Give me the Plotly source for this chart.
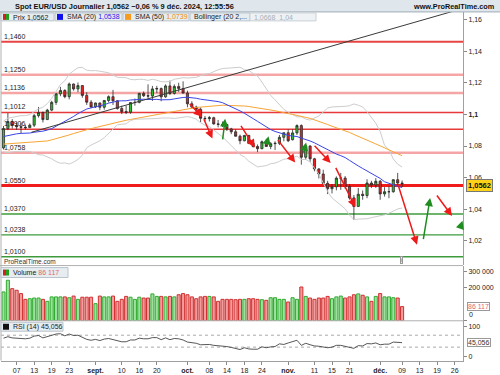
import pandas as pd
import plotly.graph_objects as go

# ---------------- data ----------------
dates = pd.bdate_range("2024-08-02", "2024-12-09")
calendar = [d for d in pd.bdate_range("2024-08-02", "2024-12-31") if d != pd.Timestamp("2024-12-25")]
cal_idx = {d: i for i, d in enumerate(calendar)}

opens = [1.0788,1.0910,1.0955,1.0930,1.0922,1.0919,1.0916,1.0932,1.0992,1.1012,
         1.0967,1.1027,1.1076,1.1130,1.1151,1.1112,1.1192,1.1161,1.1182,1.1120,
         1.1077,1.1047,1.1072,1.1045,1.1088,1.1112,1.1086,1.1037,1.1017,1.1014,
         1.1075,1.1076,1.1133,1.1118,1.1116,1.1161,1.1163,1.1111,1.1180,1.1132,
         1.1177,1.1163,1.1135,1.1067,1.1046,1.1032,1.0975,1.0973,1.0979,1.0940,
         1.0937,1.0936,1.0908,1.0890,1.0862,1.0833,1.0867,1.0817,1.0797,1.0783,
         1.0827,1.0797,1.0815,1.0817,1.0855,1.0884,1.0840,1.0883,1.0929,1.0729,
         1.0800,1.0719,1.0655,1.0623,1.0564,1.0530,1.0542,1.0597,1.0597,1.0544,
         1.0472,1.0418,1.0495,1.0487,1.0566,1.0553,1.0577,1.0497,1.0511,1.0511,
         1.0587,1.0566]
highs = [1.0927,1.1009,1.0970,1.0950,1.0948,1.0935,1.0943,1.1002,1.1047,1.1018,
         1.1035,1.1086,1.1135,1.1174,1.1159,1.1201,1.1195,1.1202,1.1185,1.1140,
         1.1090,1.1075,1.1075,1.1089,1.1120,1.1155,1.1090,1.1055,1.1055,1.1078,
         1.1100,1.1136,1.1145,1.1190,1.1180,1.1180,1.1170,1.1190,1.1214,1.1190,
         1.1200,1.1209,1.1150,1.1083,1.1055,1.1044,1.0990,1.0990,1.0985,1.0965,
         1.0955,1.0940,1.0915,1.0905,1.0872,1.0870,1.0870,1.0835,1.0810,1.0835,
         1.0845,1.0825,1.0830,1.0870,1.0885,1.0905,1.0905,1.0937,1.0937,1.0805,
         1.0805,1.0725,1.0660,1.0650,1.0580,1.0560,1.0608,1.0630,1.0610,1.0560,
         1.0490,1.0535,1.0519,1.0590,1.0580,1.0597,1.0585,1.0540,1.0545,1.0590,
         1.0630,1.0582]
lows = [1.0778,1.0900,1.0910,1.0902,1.0882,1.0905,1.0915,1.0920,1.0980,1.0949,
        1.0965,1.1020,1.1060,1.1115,1.1102,1.1095,1.1150,1.1140,1.1105,1.1060,
        1.1040,1.1040,1.1026,1.1030,1.1075,1.1060,1.1030,1.1002,1.1002,1.1004,
        1.1055,1.1070,1.1110,1.1100,1.1085,1.1135,1.1083,1.1105,1.1122,1.1125,
        1.1142,1.1133,1.1045,1.1036,1.1003,1.0951,1.0955,1.0955,1.0935,1.0918,
        1.0920,1.0895,1.0875,1.0860,1.0811,1.0830,1.0812,1.0790,1.0761,1.0780,
        1.0795,1.0780,1.0775,1.0806,1.0830,1.0825,1.0835,1.0870,1.0682,1.0713,
        1.0700,1.0640,1.0595,1.0560,1.0496,1.0500,1.0520,1.0523,1.0530,1.0461,
        1.0332,1.0420,1.0460,1.0470,1.0535,1.0535,1.0460,1.0480,1.0470,1.0505,
        1.0555,1.0540]
closes = [1.0910,1.0955,1.0930,1.0922,1.0919,1.0916,1.0932,1.0992,1.1012,1.0967,
          1.1027,1.1076,1.1130,1.1151,1.1112,1.1192,1.1161,1.1182,1.1120,1.1077,
          1.1047,1.1072,1.1045,1.1088,1.1112,1.1086,1.1037,1.1017,1.1014,1.1075,
          1.1076,1.1133,1.1118,1.1116,1.1161,1.1163,1.1111,1.1180,1.1132,1.1177,
          1.1163,1.1135,1.1067,1.1046,1.1032,1.0975,1.0973,1.0979,1.0940,1.0937,
          1.0936,1.0908,1.0890,1.0862,1.0833,1.0867,1.0817,1.0797,1.0783,1.0827,
          1.0797,1.0815,1.0817,1.0855,1.0884,1.0833,1.0883,1.0929,1.0729,1.0800,
          1.0719,1.0655,1.0623,1.0564,1.0530,1.0542,1.0597,1.0597,1.0544,1.0472,
          1.0418,1.0495,1.0487,1.0566,1.0553,1.0577,1.0497,1.0511,1.0511,1.0587,
          1.0566,1.0562]
volumes = [175000,246000,195000,185000,165000,130000,134000,138000,138000,130000,
           118000,145000,145000,145000,145000,140000,150000,130000,143000,143000,
           143000,104000,150000,145000,145000,150000,118000,130000,148000,143000,
           130000,143000,138000,138000,163000,148000,148000,145000,148000,145000,
           158000,165000,158000,145000,134000,145000,148000,148000,145000,118000,
           130000,130000,130000,128000,130000,130000,134000,134000,130000,128000,
           124000,140000,140000,130000,130000,114000,140000,130000,205000,148000,
           138000,130000,138000,138000,148000,134000,145000,150000,138000,145000,
           158000,163000,155000,145000,118000,148000,165000,145000,145000,140000,
           138000,86117]
sma20 = [1.0860,1.0867,1.0872,1.0877,1.0880,1.0880,1.0882,1.0887,1.0890,1.0894,
         1.0901,1.0910,1.0925,1.0940,1.0953,1.0970,1.0987,1.1005,1.1020,1.1034,
         1.1041,1.1047,1.1053,1.1061,1.1071,1.1079,1.1084,1.1086,1.1086,1.1091,
         1.1094,1.1096,1.1096,1.1094,1.1096,1.1095,1.1092,1.1092,1.1093,1.1098,
         1.1104,1.1107,1.1108,1.1106,1.1102,1.1096,1.1093,1.1091,1.1088,1.1081,
         1.1074,1.1062,1.1051,1.1038,1.1022,1.1007,1.0992,1.0973,1.0956,1.0938,
         1.0920,1.0904,1.0892,1.0882,1.0875,1.0867,1.0863,1.0860,1.0850,1.0843,
         1.0832,1.0820,1.0806,1.0791,1.0776,1.0760,1.0749,1.0739,1.0727,1.0709,
         1.0690,1.0674,1.0658,1.0643,1.0627,1.0614,1.0595,1.0574,1.0563,1.0552,
         1.0545,1.0538]
sma50 = [1.0812,1.0814,1.0815,1.0817,1.0819,1.0821,1.0821,1.0823,1.0826,1.0828,
         1.0832,1.0839,1.0846,1.0853,1.0861,1.0870,1.0879,1.0888,1.0895,1.0903,
         1.0910,1.0917,1.0923,1.0931,1.0940,1.0947,1.0953,1.0958,1.0963,1.0968,
         1.0973,1.0979,1.0985,1.0991,1.0997,1.1002,1.1006,1.1012,1.1016,1.1021,
         1.1027,1.1032,1.1036,1.1040,1.1044,1.1046,1.1049,1.1053,1.1055,1.1058,
         1.1058,1.1057,1.1057,1.1055,1.1054,1.1053,1.1050,1.1046,1.1042,1.1039,
         1.1034,1.1029,1.1023,1.1017,1.1013,1.1005,1.1000,1.0995,1.0987,1.0981,
         1.0975,1.0966,1.0958,1.0948,1.0936,1.0925,1.0916,1.0908,1.0898,1.0886,
         1.0873,1.0860,1.0848,1.0837,1.0825,1.0813,1.0801,1.0787,1.0775,1.0763,
         1.0751,1.0739]
bb_up = [1.0958,1.0976,1.0981,1.0987,1.0992,1.0992,1.0998,1.1018,1.1035,1.1045,
         1.1068,1.1101,1.1147,1.1189,1.1213,1.1254,1.1276,1.1295,1.1297,1.1279,
         1.1276,1.1277,1.1273,1.1268,1.1263,1.1249,1.1234,1.1233,1.1232,1.1221,
         1.1219,1.1222,1.1221,1.1215,1.1222,1.1216,1.1207,1.1206,1.1209,1.1222,
         1.1229,1.1232,1.1230,1.1232,1.1234,1.1245,1.1254,1.1258,1.1272,1.1282,
         1.1290,1.1292,1.1297,1.1300,1.1298,1.1283,1.1279,1.1258,1.1243,1.1204,
         1.1164,1.1120,1.1092,1.1061,1.1032,1.1014,1.0998,1.0984,1.0985,1.0970,
         1.0964,1.0977,1.0990,1.1015,1.1040,1.1047,1.1048,1.1046,1.1051,1.1055,
         1.1066,1.1058,1.1047,1.1017,1.0977,1.0944,1.0892,1.0804,1.0777,1.0718,
         1.0685,1.0668]
bb_lo = [1.0763,1.0758,1.0763,1.0767,1.0767,1.0767,1.0766,1.0756,1.0745,1.0743,
         1.0733,1.0719,1.0702,1.0691,1.0693,1.0686,1.0698,1.0715,1.0742,1.0789,
         1.0806,1.0817,1.0833,1.0853,1.0878,1.0909,1.0934,1.0938,1.0940,1.0961,
         1.0969,1.0970,1.0971,1.0973,1.0970,1.0974,1.0977,1.0978,1.0977,1.0974,
         1.0979,1.0982,1.0986,1.0980,1.0970,1.0947,1.0932,1.0923,1.0904,1.0880,
         1.0858,1.0832,1.0805,1.0775,1.0746,1.0731,1.0704,1.0688,1.0668,1.0672,
         1.0676,1.0688,1.0692,1.0703,1.0717,1.0719,1.0728,1.0736,1.0715,1.0715,
         1.0699,1.0662,1.0622,1.0567,1.0512,1.0472,1.0450,1.0431,1.0403,1.0363,
         1.0335,1.0338,1.0338,1.0340,1.0347,1.0352,1.0358,1.0365,1.0375,1.0390,
         1.0402,1.0408]
rsi = [60,65,61,59,59,58,60,67,69,61,
       66,70,74,75,68,74,69,70,62,56,
       53,56,52,57,59,55,50,48,48,54,
       54,60,58,58,62,62,55,61,55,59,
       58,54,47,45,43,38,38,39,36,35,
       35,32,29,26,22,28,24,23,23,31,
       28,31,32,41,39,44,48,53,36,43,
       38,34,33,30,28,30,36,36,32,29,
       26,35,34,42,41,44,38,40,40,47,
       45,45.056]

tick_dates = ["2024-08-07","2024-08-13","2024-08-19","2024-08-23","2024-09-02","2024-09-10",
              "2024-09-16","2024-09-20","2024-10-01","2024-10-08","2024-10-14","2024-10-18",
              "2024-10-24","2024-11-01","2024-11-11","2024-11-15","2024-11-21","2024-12-02",
              "2024-12-09","2024-12-13","2024-12-19","2024-12-26"]
tick_labels = ["07","13","19","23","<b>sept.</b>","10","16","20","<b>oct.</b>","08","14","18",
               "24","<b>nov.</b>","11","15","21","<b>déc.</b>","09","13","19","26"]

price_ticks = [1.02, 1.04, 1.06, 1.08, 1.10, 1.12, 1.14, 1.16]
price_tick_labels = ["1,02", "1,04", "1,06", "1,08", "<b>1,1</b>", "1,12", "1,14", "1,16"]
volume_ticks = [0, 200000, 300000]
volume_tick_labels = ["", "200 000", "300 000"]

levels = [1.1460, 1.1250, 1.1136, 1.1012, 1.0906, 1.0758, 1.0550, 1.0370, 1.0238, 1.0100]
level_colors = ["#e84444", "#f5a5a5", "#f5a5a5", "#e83a3a", "#e83a3a", "#f5a5a5",
                "#f01c1c", "#3d9b3d", "#3d9b3d", "#3d9b3d"]
level_widths = [2, 2.5, 2.5, 1.3, 1.3, 2.5, 3, 1.3, 1.3, 1.3]

trend_x = [6.4, 104.9]
trend_y = [1.0887, 1.1670]

arrow_tail_x = [42.2, 45.6, 50.0, 54.0, 60.0, 62.4, 68.4, 70.7, 75.7, 90.1, 95.8, 98.7, 104.3]
arrow_tail_y = [1.1075, 1.0979, 1.0832, 1.0937, 1.0800, 1.0847, 1.0748, 1.0811, 1.0671, 1.0553, 1.0201, 1.0497, 1.0285]
arrow_head_x = [45.3, 47.7, 50.6, 57.4, 60.5, 66.6, 69.1, 74.7, 80.3, 94.4, 97.4, 102.4, 104.8]
arrow_head_y = [1.0985, 1.0847, 1.0973, 1.0790, 1.0862, 1.0696, 1.0822, 1.0692, 1.0413, 1.0176, 1.0472, 1.0358, 1.0327]
arrow_colors = ["#ee1a1a", "#ee1a1a", "#1e8c1e", "#ee1a1a", "#1e8c1e", "#ee1a1a", "#1e8c1e",
                "#ee1a1a", "#ee1a1a", "#ee1a1a", "#1e8c1e", "#ee1a1a", "#1e8c1e"]

# ---------------- figure ----------------
W, H = 500, 375
def fx(px): return px / W
def fy(py): return 1 - py / H

idx = [cal_idx[dd] for dd in dates]
FONT = "Liberation Sans"

fig = go.Figure()
fig.add_trace(go.Scatter(x=idx, y=bb_up, mode="lines", line=dict(color="#cdcdcd", width=1), yaxis="y"))
fig.add_trace(go.Scatter(x=idx, y=bb_lo, mode="lines", line=dict(color="#cdcdcd", width=1), yaxis="y"))
fig.add_trace(go.Scatter(x=idx, y=sma50, mode="lines", line=dict(color="#f7a535", width=1), yaxis="y"))
fig.add_trace(go.Scatter(x=idx, y=sma20, mode="lines", line=dict(color="#3a44e6", width=1), yaxis="y"))
fig.add_trace(go.Scatter(x=trend_x, y=trend_y, mode="lines", line=dict(color="#3a3a3a", width=1), yaxis="y"))
fig.add_trace(go.Candlestick(
    x=idx, open=opens, high=highs, low=lows, close=closes, yaxis="y",
    increasing=dict(fillcolor="#2fbf2f", line=dict(color="#2a2a2a", width=0.8)),
    decreasing=dict(fillcolor="#e82222", line=dict(color="#2a2a2a", width=0.8)),
    whiskerwidth=0))

vol_fill = ["#9ee09e" if c >= o else "#f29c9c" for o, c in zip(opens, closes)]
vol_line = ["#2faa2f" if c >= o else "#cf3030" for o, c in zip(opens, closes)]
fig.add_trace(go.Bar(x=idx, y=volumes, yaxis="y2", width=0.7,
                     marker=dict(color=vol_fill, line=dict(color=vol_line, width=1))))
fig.add_trace(go.Scatter(x=idx, y=rsi, mode="lines", line=dict(color="#444444", width=0.9), yaxis="y3"))

shapes = []
for v, c, w in zip(levels, level_colors, level_widths):
    shapes.append(dict(type="line", xref="x domain", x0=0, x1=1, yref="y", y0=v, y1=v,
                       line=dict(color=c, width=w), layer="below"))
for v in [70, 30]:
    shapes.append(dict(type="line", xref="x domain", x0=0, x1=1, yref="y3", y0=v, y1=v,
                       line=dict(color="#aaaaaa", width=1, dash="dot"), layer="below"))
shapes.append(dict(type="rect", xref="paper", yref="paper", x0=0, x1=1, y0=fy(12), y1=1,
                   fillcolor="#dfe6ec", line=dict(width=0), layer="below"))
shapes.append(dict(type="line", xref="paper", yref="paper", x0=0, x1=1, y0=fy(12), y1=fy(12),
                   line=dict(color="#9eacb6", width=1)))
for py in [267, 322.5]:
    shapes.append(dict(type="line", xref="paper", yref="paper", x0=0, x1=fx(463), y0=fy(py), y1=fy(py),
                       line=dict(color="#b0b0b0", width=1)))
shapes.append(dict(type="line", xref="paper", yref="paper", x0=fx(1), x1=fx(1), y0=fy(362.5), y1=fy(12),
                   line=dict(color="#b0b0b0", width=1)))

def box(x0, x1, y0, y1, fill="#e6ecf0", line="#b9c4cc"):
    shapes.append(dict(type="rect", xref="paper", yref="paper", x0=fx(x0), x1=fx(x1), y0=fy(y1), y1=fy(y0),
                       fillcolor=fill, line=dict(color=line, width=1)))
def icon(x0, y0, c1, c2=None):
    if c2 is None:
        shapes.append(dict(type="rect", xref="paper", yref="paper", x0=fx(x0), x1=fx(x0 + 6), y0=fy(y0 + 6), y1=fy(y0),
                           fillcolor=c1, line=dict(width=0)))
    else:
        shapes.append(dict(type="rect", xref="paper", yref="paper", x0=fx(x0), x1=fx(x0 + 3), y0=fy(y0 + 6), y1=fy(y0),
                           fillcolor=c1, line=dict(width=0)))
        shapes.append(dict(type="rect", xref="paper", yref="paper", x0=fx(x0 + 3), x1=fx(x0 + 6), y0=fy(y0 + 6), y1=fy(y0),
                           fillcolor=c2, line=dict(width=0)))

box(1, 54, 13, 21); icon(3, 14, "#d62020", "#22a022")
box(55, 122, 13, 21); icon(57, 14, "#1010ee")
box(123, 189, 13, 21); icon(125, 14, "#f79a20")
box(190, 250, 13, 21)
box(250, 316, 13, 21, fill="#eef2f5", line="#c8d0d6")
box(1, 68, 269, 279); icon(3, 271, "#d62020", "#22a022")
box(1, 63, 324, 333); icon(3, 325.5, "#111111")

ann = []
def txt(x, y, s, size=7, color="#222", bold=False, anchor="left", **kw):
    ann.append(dict(xref="paper", yref="paper", x=fx(x), y=fy(y), text=(f"<b>{s}</b>" if bold else s),
                    showarrow=False, xanchor=anchor, yanchor="middle",
                    font=dict(family=FONT, size=size, color=color), **kw))

txt(13, 6.5, "Spot EUR/USD Journalier 1,0562 \u22120,06 % 9 déc. 2024, 12:55:56", size=7.4, bold=True, color="#111")
txt(497, 6.5, "www.ProRealTime.com", size=7.3, bold=True, anchor="right", color="#111")
txt(11, 17.3, "Prix 1,0562")
txt(65, 17.3, "SMA (20) <span style='color:#2020ee'>1,0538</span>")
txt(133, 17.3, "SMA (50) <span style='color:#f08a10'>1,0739</span>")
txt(192, 17.3, "Bollinger (20 2,...")
txt(252, 17.3, "1,0668  1,04", color="#a8b0b6")
txt(11, 274, "Volume <span style='color:#e06a6a'>86 117</span>")
txt(11, 329, "RSI (14) 45,056")
txt(2, 263, "ProRealTime.com", size=6.5, color="#333")
txt(401, 261.5, "i", size=5, color="#666", anchor="center", bordercolor="#999", borderwidth=1, borderpad=0, bgcolor="#eeeeee")
txt(467, 316, "0", size=7, color="#222")

txt(466, 186.5, "1,0562", size=7.5, bold=True, color="#111", bgcolor="#ffd21a", bordercolor="#777", borderwidth=1, borderpad=1)
txt(467, 308, "86 117", size=7, color="#e06a6a", bgcolor="white", bordercolor="#999", borderwidth=1, borderpad=0)
txt(467, 344.5, "45,056", size=7, color="#333", bgcolor="white", bordercolor="#999", borderwidth=1, borderpad=0)

for v in levels:
    ann.append(dict(xref="paper", yref="y", x=fx(2), y=v, yanchor="bottom", xanchor="left", yshift=0,
                    text=f"{v:.4f}".replace(".", ","), showarrow=False,
                    font=dict(family=FONT, size=7, color="#222")))

for tx, ty, hx, hy, c in zip(arrow_tail_x, arrow_tail_y, arrow_head_x, arrow_head_y, arrow_colors):
    ann.append(dict(x=hx, y=hy, ax=tx, ay=ty, xref="x", yref="y", axref="x", ayref="y", text="",
                    showarrow=True, arrowhead=2, arrowsize=1.1, arrowwidth=1.5, arrowcolor=c, standoff=0))

axis_common = dict(showgrid=False, zeroline=False, showline=True, linecolor="#a0a0a0", linewidth=1,
                   ticks="outside", ticklen=3, tickcolor="#888", tickfont=dict(family=FONT, size=7, color="#222"))

fig.update_layout(
    width=W, height=H, margin=dict(l=0, r=0, t=0, b=0), paper_bgcolor="white", plot_bgcolor="white",
    showlegend=False, separators=", ", font=dict(family=FONT, size=7, color="#222"),
    shapes=shapes, annotations=ann, hovermode=False,
    xaxis=dict(domain=[fx(1), fx(463)], range=[-0.571, 104.91], anchor="y3",
               tickvals=[cal_idx[pd.Timestamp(t)] for t in tick_dates], ticktext=tick_labels,
               rangeslider=dict(visible=False), **axis_common),
    yaxis=dict(domain=[fy(266), fy(12)], range=[1.00503, 1.16478], side="right", anchor="x",
               tickvals=price_ticks, ticktext=price_tick_labels, **axis_common),
    yaxis2=dict(domain=[fy(322.5), fy(267)], range=[0, 335000], side="right", anchor="x",
                tickvals=volume_ticks, ticktext=volume_tick_labels, **axis_common),
    yaxis3=dict(domain=[fy(362.5), fy(323)], range=[-15, 116.7], side="right", anchor="x",
                tickvals=[0, 100], ticktext=["0", "100"], **axis_common),
    bargap=0.3,
)

fig.write_html("out.html", config={"displayModeBar": False},
               post_script="document.body.style.margin='0';document.body.style.padding='0';")
